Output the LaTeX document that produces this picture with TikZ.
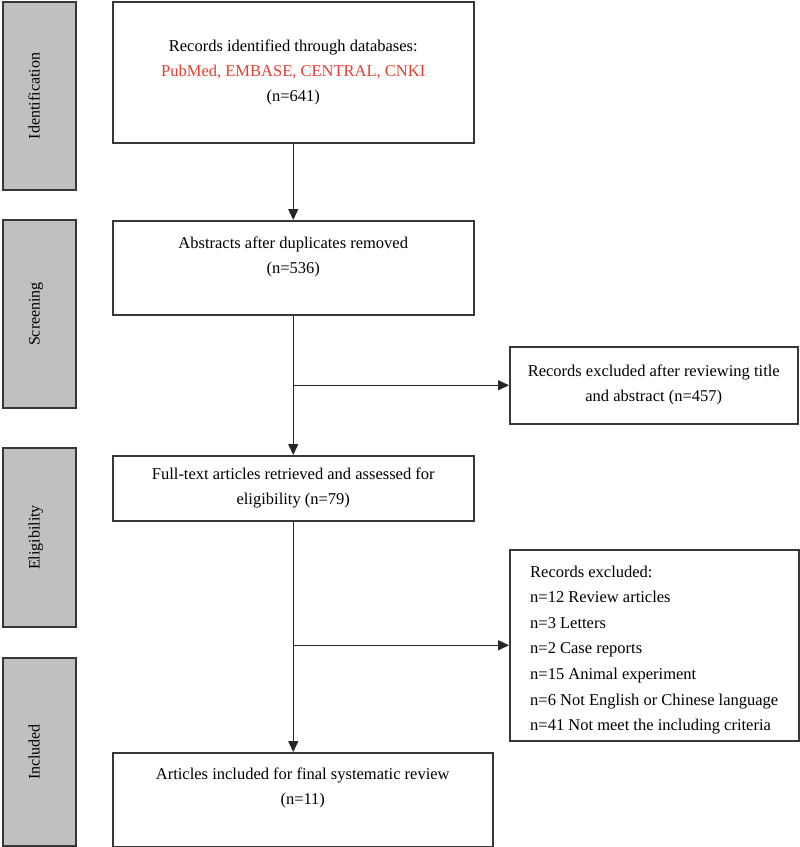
\documentclass[tikz,border=0pt]{standalone}
\usepackage{fontspec}
\setmainfont{Liberation Serif}
\usepackage{xcolor}
\usepackage{tikz}
\usetikzlibrary{arrows.meta, positioning}
\definecolor{stagegray}{RGB}{192,192,192}
\definecolor{dbred}{RGB}{226,62,50}
\definecolor{edgegray}{RGB}{55,55,55}
\newcommand{\stagebar}[4]{
	\node[stage, minimum width=#3pt] (#1)
		at (39.5, {#2+#3/2}) {#4};
}
\newcommand{\padbelow}[1]{\rule[-#1pt]{0pt}{#1pt}}
\newcommand{\padabove}[1]{\rule{0pt}{#1pt}}

\begin{document}
\begin{tikzpicture}[x=1pt, y=-1pt,
	stage/.style={draw=edgegray, fill=stagegray, line width=1.5pt, rotate=90,
		minimum height=73pt, inner sep=0pt, text height=10pt, text depth=10pt,
		font=\fontsize{16}{18}\selectfont},
	box/.style={draw=edgegray, line width=1.5pt, anchor=north west, inner sep=0pt,
		align=center, font=\fontsize{16.5}{25}\selectfont},
	flow/.style={-{Triangle[length=11pt, width=10pt]}, line width=1.5pt, draw=black!85}]
		\useasboundingbox (0,0) rectangle (800,847);

		%% left column
		% stage bars
		\stagebar{ident}{2}{188}{Identification}
		\stagebar{screen}{220}{188}{Screening}
		\stagebar{elig}{448}{179}{Eligibility}
		\stagebar{incl}{658}{188}{Included}

		%% main column
		\node[box, minimum width=361pt, minimum height=141pt] (records) at (112, 1)
			{Records identified through databases:\\
			 {\color{dbred}PubMed, EMBASE, CENTRAL, CNKI}\\
			 (n=641)};
		\node[box, minimum width=361pt, minimum height=94pt] (abstracts) at (112, 220)
			{Abstracts after duplicates removed\\
			 (n=536)\padbelow{25}};
		\node[box, minimum width=361pt, minimum height=65pt] (fulltext) at (112, 455)
			{Full-text articles retrieved and assessed for\\
			 eligibility (n=79)};
		\node[box, minimum width=380pt, minimum height=94pt] (included) at (112, 752)
			{Articles included for final systematic review\\
			 (n=11)\padbelow{28}};

		%% right column
		\node[box, minimum width=288pt, minimum height=77pt] (exclA) at (509, 346)
			{Records excluded after reviewing title\\
			 and abstract (n=457)};
		\node[box, minimum width=289pt, minimum height=191pt, align=left,
			inner xsep=16pt, font=\fontsize{16.5}{25.6}\selectfont] (exclB) at (509, 549)
			{\padabove{21}Records excluded:\\
			 n=12 Review articles\\
			 n=3 Letters\\
			 n=2 Case reports\\
			 n=15 Animal experiment\\
			 n=6 Not English or Chinese language\\
			 n=41 Not meet the including criteria};

		% arrows
		\draw[flow] (records) -- (abstracts);
		\draw[flow] (abstracts) -- (fulltext);
		\coordinate (splitA) at (abstracts.south |- exclA.west);
		\draw[flow] (splitA) -- (exclA);
		\coordinate (entryD) at (fulltext.south |- included.north);
		\draw[flow] (fulltext) -- (entryD);
		\coordinate (splitB) at (fulltext.south |- exclB.west);
		\draw[flow] (splitB) -- (exclB);
	\end{tikzpicture}
\end{document}
